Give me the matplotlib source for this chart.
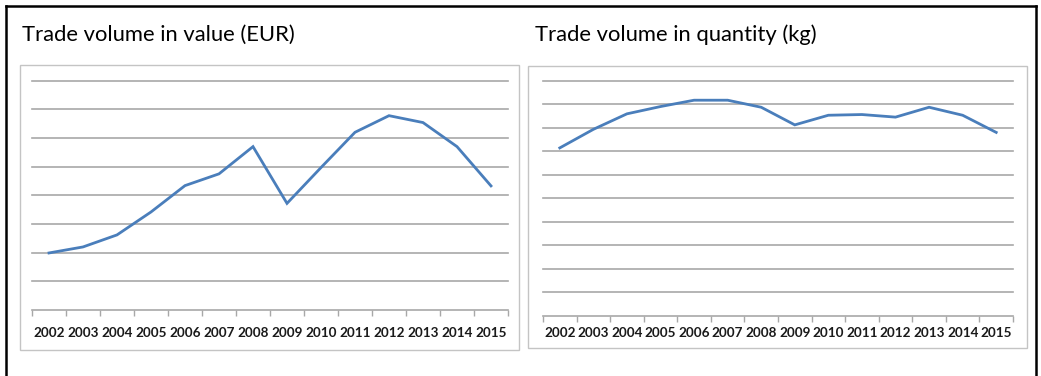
import matplotlib
matplotlib.use("Agg")
import matplotlib.pyplot as plt
from matplotlib.patches import Rectangle
from matplotlib.lines import Line2D

W, H = 1041, 376

years = ["2002", "2003", "2004", "2005", "2006", "2007", "2008",
         "2009", "2010", "2011", "2012", "2013", "2014", "2015"]
value_eur = [1.99, 2.2, 2.62, 3.42, 4.34, 4.75, 5.7,
             3.72, 4.97, 6.2, 6.78, 6.54, 5.7, 4.33]
quantity_kg = [7.14, 7.93, 8.59, 8.9, 9.17, 9.17, 8.87,
               8.12, 8.53, 8.56, 8.45, 8.87, 8.53, 7.8]

LINE_COLOR = "#4a7ebb"
GRID_COLOR = "#a8a8a8"
FRAME_COLOR = "#c4c4c4"
FONT = "Lato"


def fx(px):
    return px / W


def fy(py):
    return 1 - py / H


def box(fig, x0, y0, x1, y1, color, lw):
    fig.patches.append(Rectangle((fx(x0), fy(y1)), fx(x1) - fx(x0), fy(y0) - fy(y1),
                                 transform=fig.transFigure, fill=False,
                                 edgecolor=color, linewidth=lw))


def panel(fig, rect_px, values, ymax, pad):
    x0, y0, x1, y1 = rect_px
    ax = fig.add_axes([fx(x0), fy(y1), fx(x1) - fx(x0), fy(y0) - fy(y1)])
    n = len(values)
    xs = list(range(n))
    ax.plot(xs, values, color=LINE_COLOR, linewidth=2.0, zorder=3,
            solid_joinstyle="miter")
    ax.set_xlim(-0.5, n - 0.5)
    ax.set_ylim(0, ymax)
    ax.set_yticks(range(1, ymax + 1))
    ax.tick_params(axis="y", length=0, labelleft=False)
    ax.grid(True, axis="y", color=GRID_COLOR, linewidth=1.2, zorder=0)
    for s in ("left", "right", "top"):
        ax.spines[s].set_visible(False)
    ax.spines["bottom"].set_color(GRID_COLOR)
    ax.spines["bottom"].set_linewidth(1.2)
    # tick marks between categories, labels at the centres
    ax.set_xticks([i - 0.5 for i in range(n + 1)])
    ax.set_xticklabels([])
    ax.tick_params(axis="x", which="major", length=4, width=1, color=GRID_COLOR)
    ax.set_xticks(xs, minor=True)
    ax.set_xticklabels(years, minor=True, fontsize=9.7, fontweight="bold",
                       family=FONT, color="#1a1a1a")
    ax.tick_params(axis="x", which="minor", length=0, pad=pad)
    ax.set_facecolor("none")
    for gl in ax.get_ygridlines():
        gl.set_clip_on(False)
    return ax


fig = plt.figure(figsize=(W / 100, H / 100), dpi=100)

# outer frame (open at the bottom)
for xs_, ys_ in [((5.5, 5.5), (5.5, H + 5)), ((5.5, 1036), (5.5, 5.5)),
                 ((1036, 1036), (5.5, H + 5))]:
    fig.lines.append(Line2D([fx(v) for v in xs_], [fy(v) for v in ys_],
                            transform=fig.transFigure, color="black", linewidth=1.8))

# panel frames
box(fig, 20, 65, 519, 350, FRAME_COLOR, 1.0)
box(fig, 527.5, 66, 1027, 348, FRAME_COLOR, 1.0)

fig.text(fx(22), fy(35), "Trade volume in value (EUR)", family=FONT,
         fontsize=15.8, va="center", ha="left", color="black")
fig.text(fx(535), fy(35), "Trade volume in quantity (kg)", family=FONT,
         fontsize=15.8, va="center", ha="left", color="black")

panel(fig, (32, 80.7, 508, 310), value_eur, 8, 12)
panel(fig, (543, 80.7, 1013, 315.7), quantity_kg, 10, 8)

fig.savefig("out.png", dpi=100)
